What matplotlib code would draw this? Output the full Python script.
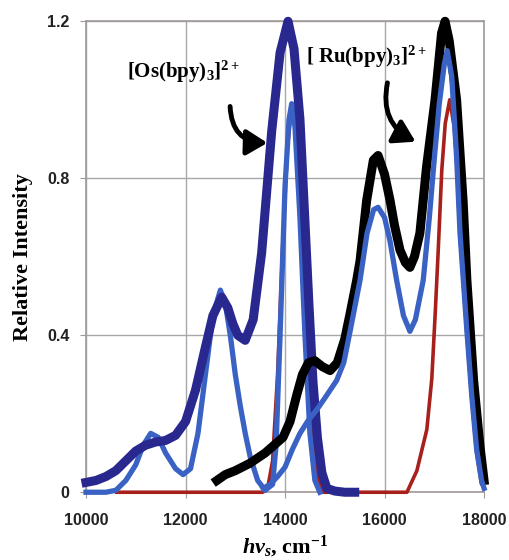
import numpy as np
import matplotlib
matplotlib.use('Agg')
import matplotlib.pyplot as plt
from matplotlib.patches import FancyArrowPatch

plt.rcParams['mathtext.fontset'] = 'custom'
plt.rcParams['mathtext.rm'] = 'Liberation Serif:bold'
plt.rcParams['mathtext.it'] = 'Liberation Serif:bold:italic'
plt.rcParams['mathtext.bf'] = 'Liberation Serif:bold'

# Os(bpy)3 - thick dark blue
os_dark_x = [10000, 10200, 10400, 10600, 10800, 11000, 11200, 11400, 11600, 11800,
             12000, 12200, 12400, 12550, 12727, 12850, 12950, 13050, 13200, 13360,
             13530, 13732, 13900, 14060, 14180, 14300, 14400, 14480, 14560, 14650,
             14740, 14840, 15000, 15200, 15400]
os_dark_y = [0.025, 0.03, 0.04, 0.055, 0.08, 0.105, 0.12, 0.128, 0.132, 0.145,
             0.18, 0.26, 0.37, 0.45, 0.497, 0.47, 0.43, 0.40, 0.387, 0.44,
             0.61, 0.92, 1.12, 1.20, 1.13, 0.95, 0.69, 0.48, 0.285, 0.14,
             0.05, 0.01, 0.003, 0.0, 0.0]

# Os(bpy)3 - light blue
os_light_x = [10000, 10400, 10600, 10800, 11000, 11150, 11300, 11450, 11600, 11800,
              11950, 12100, 12250, 12400, 12550, 12700, 12800, 12900, 13000, 13100,
              13200, 13300, 13450, 13600, 13750, 13820, 13900, 14000, 14080, 14134,
              14200, 14300, 14400, 14500, 14600, 14700]
os_light_y = [0.0, 0.0, 0.005, 0.03, 0.07, 0.12, 0.15, 0.14, 0.10, 0.06,
              0.045, 0.06, 0.15, 0.30, 0.45, 0.515, 0.48, 0.40, 0.30, 0.22,
              0.15, 0.09, 0.03, 0.005, 0.02, 0.12, 0.40, 0.78, 0.95, 0.99,
              0.93, 0.70, 0.40, 0.15, 0.03, 0.0]

# model curves - dark red
red_x = [10580, 11000, 12000, 13000, 13550, 13650, 13750, 13850, 13950, 14050,
         14140, 14250, 14350, 14450, 14550, 14650, 14750, 15500, 16450, 16650,
         16850, 16950, 17020, 17080, 17150, 17220, 17310, 17400, 17450, 17517,
         17650, 17750, 17850, 17950]
red_y = [0.0, 0.0, 0.0, 0.0, 0.0, 0.01, 0.08, 0.30, 0.62, 0.88,
         0.99, 0.90, 0.65, 0.38, 0.15, 0.04, 0.0, 0.0, 0.0, 0.055,
         0.16, 0.29, 0.46, 0.62, 0.82, 0.94, 1.0, 0.93, 0.84, 0.65,
         0.41, 0.24, 0.10, 0.02]

# Ru(bpy)3 - thick black
ru_black_x = [12630, 12800, 13000, 13296, 13600, 13960, 14100, 14240, 14350, 14470,
              14600, 14750, 14905, 15050, 15200, 15307, 15440, 15508, 15641, 15775,
              15870, 16000, 16110, 16200, 16310, 16420, 16510, 16600, 16710, 16845,
              17015, 17146, 17216, 17300, 17448, 17580, 17655, 17790, 17920, 18000]
ru_black_y = [0.03, 0.045, 0.055, 0.074, 0.10, 0.14, 0.18, 0.25, 0.30, 0.33,
              0.335, 0.32, 0.31, 0.33, 0.39, 0.455, 0.54, 0.59, 0.744, 0.846,
              0.858, 0.81, 0.744, 0.68, 0.617, 0.585, 0.573, 0.60, 0.66, 0.83,
              1.0, 1.17, 1.20, 1.15, 1.0, 0.74, 0.54, 0.285, 0.115, 0.03]

# Ru(bpy)3 - light blue
ru_light_x = [13560, 13700, 13850, 14000, 14150, 14300, 14450, 14636, 14800, 15038,
              15180, 15307, 15507, 15648, 15780, 15870, 16000, 16110, 16243, 16380,
              16510, 16620, 16777, 16900, 17000, 17100, 17200, 17260, 17350, 17450,
              17517, 17650, 17750, 17850, 17950, 18000]
ru_light_y = [0.01, 0.02, 0.04, 0.064, 0.11, 0.15, 0.18, 0.21, 0.24, 0.285,
              0.33, 0.41, 0.54, 0.66, 0.72, 0.726, 0.70, 0.64, 0.54, 0.45,
              0.41, 0.44, 0.54, 0.70, 0.85, 0.99, 1.09, 1.125, 1.06, 0.85,
              0.66, 0.42, 0.25, 0.11, 0.03, 0.01]

dark_blue = '#28288f'
light_blue = '#3a62c4'
dark_red = '#a8201c'

fig = plt.figure(figsize=(5.09, 5.6), dpi=100)
ax = fig.add_axes([0.169, 0.121, 0.782, 0.841])

ax.plot(red_x, red_y, color=dark_red, lw=2.6, zorder=3, clip_on=False,
        solid_capstyle='butt')
ax.plot(os_light_x, os_light_y, color=light_blue, lw=3.8, zorder=4, clip_on=False)
ax.plot(os_dark_x, os_dark_y, color=dark_blue, lw=6.5, zorder=5, clip_on=False)
ax.plot(ru_black_x, ru_black_y, color='black', lw=6.5, zorder=5, clip_on=False)
ax.plot(ru_light_x, ru_light_y, color=light_blue, lw=3.8, zorder=6, clip_on=False)

ax.set_xlim(10000, 18000)
ax.set_ylim(0, 1.2)
ax.set_xticks([10000, 12000, 14000, 16000, 18000])
ax.set_yticks([0, 0.4, 0.8, 1.2])
ax.set_yticklabels(['0', '0.4', '0.8', '1.2'])
ax.grid(True, color='#a8a8a8', lw=1.0)
ax.set_axisbelow(True)
for s in ax.spines.values():
    s.set_color('#a09a96')
    s.set_linewidth(1.2)
ax.tick_params(length=4, color='#a09a96', labelsize=11.5, pad=8)
ax.tick_params(axis='x', pad=11)
for lab in ax.get_xticklabels() + ax.get_yticklabels():
    lab.set_fontfamily('Liberation Sans')
    lab.set_fontweight('bold')
    lab.set_color('#222222')

ax.set_ylabel('Relative Intensity', fontsize=16, fontfamily='Liberation Serif',
              fontweight='bold', labelpad=10)
ax.set_xlabel(r'$h\nu_s$, cm$^{-1}$', fontsize=16, fontfamily='Liberation Serif',
              fontweight='bold', labelpad=4)

ax.text(11950, 1.07, r'[Os(bpy)$_3$]$^{2+}$', fontsize=15, fontfamily='Liberation Serif',
        fontweight='bold', ha='center', va='center')
ax.text(15630, 1.11, r'[ Ru(bpy)$_3$]$^{2+}$', fontsize=15, fontfamily='Liberation Serif',
        fontweight='bold', ha='center', va='center')

arr1 = FancyArrowPatch((12894, 0.99), (13700, 0.89), connectionstyle='arc3,rad=0.5',
                       arrowstyle='-|>,head_length=0.9,head_width=0.55', lw=3.5,
                       color='black', mutation_scale=14, zorder=7)
ax.add_patch(arr1)
arr2 = FancyArrowPatch((16070, 1.05), (16673, 0.89), connectionstyle='arc3,rad=0.4',
                       arrowstyle='-|>,head_length=0.9,head_width=0.55', lw=3.5,
                       color='black', mutation_scale=14, zorder=7)
ax.add_patch(arr2)

fig.savefig('out.png', dpi=100)
